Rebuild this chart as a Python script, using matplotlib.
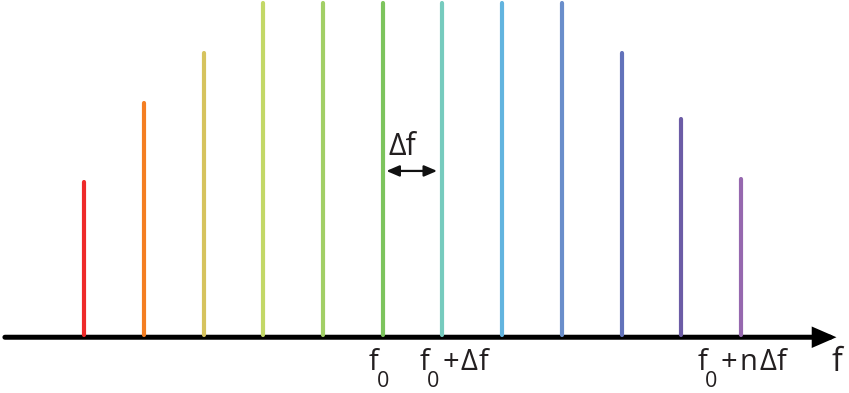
import numpy as np
import matplotlib
matplotlib.use("Agg")
import matplotlib.pyplot as plt
from matplotlib.patches import FancyArrowPatch

plt.rcParams["font.family"] = ["Open Sans", "DejaVu Sans"]

# comb lines: relative amplitude and colour for each index
amplitudes = [0.46, 0.70, 0.85, 1.0, 1.0, 1.0, 1.0, 1.0, 1.0, 0.85, 0.65, 0.47]
colors = ["#EE2A2A", "#F47E22", "#D6C35E", "#C3D867", "#A2CF66", "#7DC45D",
          "#76CBBE", "#62B4DF", "#6A8ECB", "#6272BA", "#6C5CA6", "#9668AF"]
# axis labels, split into glyph runs: f, subscript 0, then the rest
labels = [["f", "0"], ["f", "0", "+", "Δ", "f"], ["f", "0", "+", "n", "Δ", "f"]]
label_idx = [5, 6, 11]

idx = np.arange(len(amplitudes))
TXT = "#231F20"
MAIN, SUB, DROP = 21, 15.5, -12.5
GAPS = {"0": -1.5, "+": 2.5, "Δ": 1.2, "n": 1.5, "f": 0.8}

fig = plt.figure(figsize=(8.49, 3.93), dpi=100)
ax = fig.add_axes([0, 0, 1, 1])
ax.set_xlim(-1.412, 12.81)
ax.set_ylim(-0.175, 1.009)
ax.axis("off")

for i, a, c in zip(idx, amplitudes, colors):
    ax.plot([i, i], [0, a], color=c, lw=3, solid_capstyle="round")

# frequency axis
ax.add_patch(FancyArrowPatch((-1.33, -0.007), (12.6, -0.007),
                             arrowstyle="-|>,head_length=1.15,head_width=0.5",
                             mutation_scale=10, lw=3.6, color="black",
                             shrinkA=0, shrinkB=0, joinstyle="miter"))

# spacing arrow
ax.add_patch(FancyArrowPatch((5.06, 0.494), (5.91, 0.494),
                             arrowstyle="<|-|>,head_length=0.7,head_width=0.3",
                             mutation_scale=11, lw=1.6, color="#111111",
                             shrinkA=0, shrinkB=0))
ax.text(5.1, 0.542, "Δf", fontsize=22, ha="left", va="baseline", color=TXT)


def put_label(x, y, parts):
    t = ax.text(x, y, parts[0], fontsize=MAIN, ha="left", va="baseline", color=TXT)
    for s in parts[1:]:
        size, dy = (SUB, DROP) if s == "0" else (MAIN, 0)
        t = ax.annotate(s, xy=(1, y), xycoords=(t, "data"), xytext=(GAPS[s], dy),
                        textcoords="offset points", fontsize=size,
                        ha="left", va="baseline", color=TXT)


offsets = [-0.23, -0.39, -0.73]
for i, lab, dx in zip(label_idx, labels, offsets):
    put_label(i + dx, -0.105, lab)

ax.text(12.61, -0.108, "f", fontsize=23, ha="center", va="baseline", color=TXT)

fig.savefig("out.png", dpi=100)
